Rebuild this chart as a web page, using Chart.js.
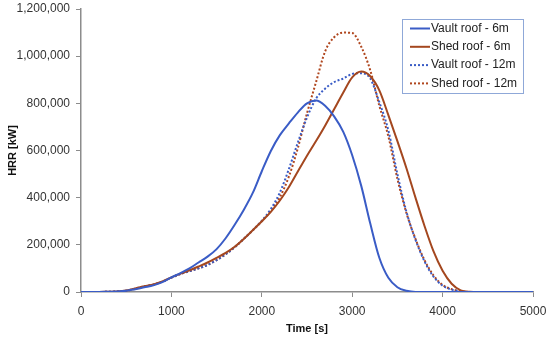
<!DOCTYPE html>
<html>
<head>
<meta charset="utf-8">
<script src="https://cdn.jsdelivr.net/npm/chart.js@4.4.1/dist/chart.umd.min.js"></script>
<style>
html,body{margin:0;padding:0;background:#fff;}
#wrap{width:550px;height:339px;position:relative;}
</style>
</head>
<body>
<div id="wrap"><canvas id="c" width="550" height="339"></canvas></div>
<script>
// Time axis categories [s]
const times = [0,100,200,300,400,500,600,700,800,900,1000,1100,1200,1300,1400,1500,1600,1700,1800,1900,2000,2100,2200,2300,2400,2500,2600,2700,2800,2900,3000,3100,3200,3300,3400,3500,3600,3700,3800,3900,4000,4100,4200,4300,4400,4500,4600,4700,4800,4900,5000];

// HRR [kW] series
const vault6 = [0,0,0,1000,2000,5000,12000,20000,28000,42000,62000,80000,100000,125000,150000,182000,228000,285000,348000,420000,512000,598000,665000,715000,762000,800000,812000,790000,745000,680000,580000,450000,290000,145000,60000,20000,5000,0,0,0,0,0,0,0,0,0,0,0,0,0,0];
const shed6 = [0,0,0,1000,2000,6000,15000,25000,32000,45000,62000,78000,92000,108000,125000,145000,166000,192000,225000,262000,300000,340000,388000,445000,512000,578000,640000,705000,775000,845000,910000,935000,915000,855000,750000,640000,525000,400000,280000,172000,90000,35000,7000,1000,0,0,0,0,0,0,0];
const vault12 = [0,0,0,1000,2000,5000,14000,24000,31000,44000,61000,76000,88000,100000,115000,135000,160000,190000,225000,262000,302000,352000,422000,522000,635000,740000,820000,862000,890000,905000,925000,928000,905000,805000,685000,500000,340000,222000,130000,65000,27000,10000,3000,0,0,0,0,0,0,0,0];
const shed12 = [0,0,0,1000,2000,5000,14000,24000,31000,44000,61000,76000,88000,100000,115000,135000,160000,190000,225000,262000,300000,345000,402000,490000,612000,758000,890000,1020000,1080000,1100000,1098000,1040000,940000,790000,660000,480000,335000,225000,135000,70000,30000,12000,4000,0,0,0,0,0,0,0,0];

const seriesNames = ["Vault roof - 6m","Shed roof - 6m","Vault roof - 12m","Shed roof - 12m"];
const xTicks = [0,1000,2000,3000,4000,5000];
const yTicks = [0,200000,400000,600000,800000,1000000,1200000];

const BLUE = '#3A5CC6';
const BROWN = '#A4471F';
const BROWN_DOT = '#B0461E';

function pts(arr){ return times.map((t,i)=>({x:t,y:arr[i]})); }

const dsStyle = [
  {color:BLUE, dash:[]},
  {color:BROWN, dash:[]},
  {color:BLUE, dash:[2,2]},
  {color:BROWN_DOT, dash:[2,2]}
];
const allData = [vault6, shed6, vault12, shed12];

const legendPlugin = {
  id:'boxLegend',
  afterDraw(chart){
    const ctx = chart.ctx;
    const ca = chart.chartArea;
    const w = 121, h = 74;
    const x0 = ca.right - 10 - w, y0 = ca.top + 10;
    ctx.save();
    ctx.fillStyle = '#fff';
    ctx.fillRect(x0, y0, w, h);
    ctx.strokeStyle = '#8FA8D8';
    ctx.lineWidth = 1;
    ctx.strokeRect(x0+0.5, y0+0.5, w, h);
    ctx.font = '12px "Liberation Sans", Arial, sans-serif';
    ctx.textBaseline = 'middle';
    chart.data.datasets.forEach((ds,i)=>{
      const yy = y0 + 9.5 + i*18.3;
      ctx.strokeStyle = ds.borderColor;
      ctx.lineWidth = 2;
      ctx.setLineDash(ds.borderDash || []);
      ctx.beginPath();
      ctx.moveTo(x0+8, yy);
      ctx.lineTo(x0+28, yy);
      ctx.stroke();
      ctx.setLineDash([]);
      ctx.fillStyle = '#222';
      ctx.fillText(ds.label, x0+29, yy);
    });
    ctx.restore();
  }
};

new Chart(document.getElementById('c'), {
  type:'line',
  data:{
    datasets: allData.map((arr,i)=>({
      label: seriesNames[i],
      data: pts(arr),
      borderColor: dsStyle[i].color,
      borderDash: dsStyle[i].dash,
      borderWidth: 2,
      pointRadius: 0,
      fill: false,
      cubicInterpolationMode: 'monotone'
    }))
  },
  options:{
    responsive:false,
    animation:false,
    layout:{padding:{left:0,right:17,top:9,bottom:3}},
    plugins:{legend:{display:false},tooltip:{enabled:false}},
    scales:{
      x:{
        type:'linear', min:0, max:5000,
        afterBuildTicks(s){ s.ticks = xTicks.map(v=>({value:v})); },
        afterFit(s){ s.height = 44; s.paddingLeft = 0; s.paddingRight = 0; },
        grid:{display:true, drawOnChartArea:false, drawTicks:true, tickLength:5, color:'#8c8c8c', lineWidth:1},
        border:{display:true, color:'#8c8c8c', width:1.5},
        ticks:{color:'#333', font:{family:'"Liberation Sans", Arial, sans-serif', size:12}, padding:7, maxRotation:0,
          callback:(v)=>String(v)},
        title:{display:true, text:'Time [s]', color:'#111', font:{family:'"Liberation Sans", Arial, sans-serif', size:11, weight:'bold'}, padding:{top:2,bottom:0}}
      },
      y:{
        min:0, max:1200000,
        afterBuildTicks(s){ s.ticks = yTicks.map(v=>({value:v})); },
        afterFit(s){ s.width = 81; s.paddingTop = 0; s.paddingBottom = 0; },
        grid:{display:true, drawOnChartArea:false, drawTicks:true, tickLength:5, color:'#8c8c8c', lineWidth:1},
        border:{display:true, color:'#8c8c8c', width:1.5},
        ticks:{color:'#333', font:{family:'"Liberation Sans", Arial, sans-serif', size:12}, padding:6,
          callback:(v)=>v.toLocaleString('en-US')},
        title:{display:true, text:'HRR [kW]', color:'#111', font:{family:'"Liberation Sans", Arial, sans-serif', size:11, weight:'bold'}, padding:{top:6,bottom:0}}
      }
    }
  },
  plugins:[legendPlugin]
});
</script>
</body>
</html>
